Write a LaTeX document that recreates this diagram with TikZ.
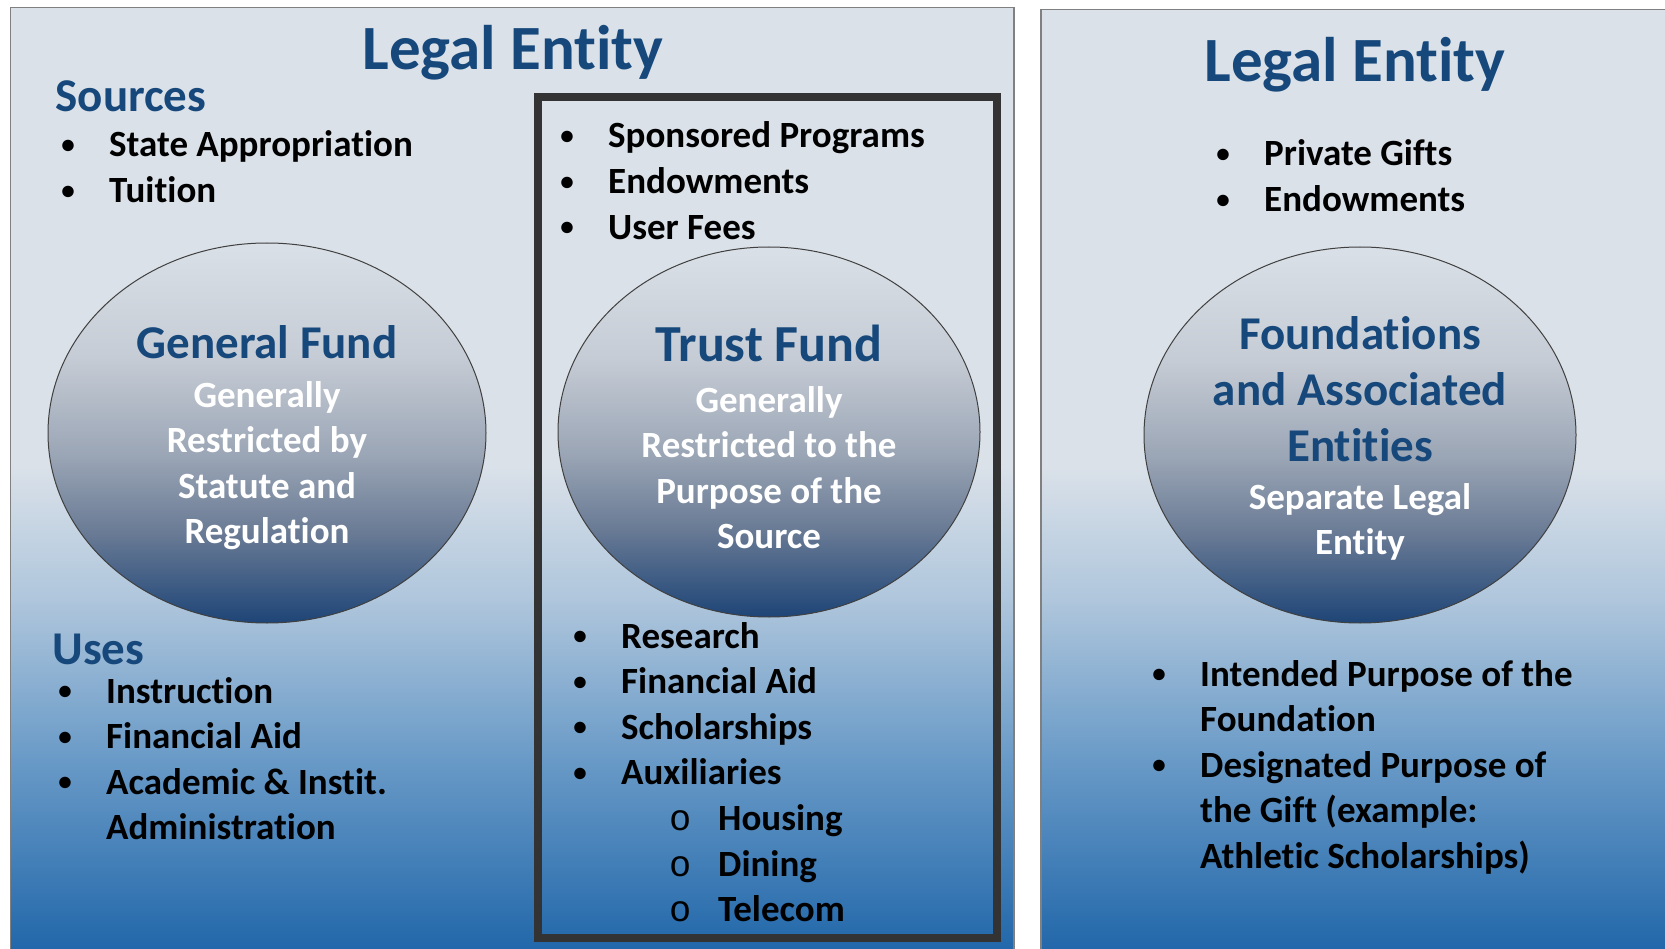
\documentclass[tikz,border=0pt]{standalone}
\usepackage{fontspec}
\setmainfont{Carlito}[Ligatures=NoCommon]
\newfontfamily\subbulfont{Liberation Mono}
\usetikzlibrary{positioning,shapes}

\definecolor{titleblue}{HTML}{17487B}
\definecolor{panellight}{HTML}{DAE1E9}
\definecolor{panelmid}{HTML}{AFC6DC}
\definecolor{panelsky}{HTML}{6C9CC8}
\definecolor{paneldeep}{HTML}{1D64A8}
\definecolor{ovaltop}{HTML}{DAE0E7}
\definecolor{ovalupper}{HTML}{C6CCD5}
\definecolor{ovalmid}{HTML}{9AA5B5}
\definecolor{ovallow}{HTML}{6A7B95}
\definecolor{ovalbot}{HTML}{1E4577}
\definecolor{framegray}{HTML}{333333}

\pgfdeclareverticalshading{panelfade}{100bp}{color(0bp)=(paneldeep); color(25bp)=(paneldeep); color(36bp)=(panelsky); color(44bp)=(panelmid); color(51bp)=(panellight); color(100bp)=(panellight)}
\pgfdeclareverticalshading{ovalfade}{100bp}{color(0bp)=(ovalbot); color(25bp)=(ovalbot); color(37bp)=(ovallow); color(47bp)=(ovalmid); color(60bp)=(ovalupper); color(75bp)=(ovaltop); color(100bp)=(ovaltop)}

\newcommand{\bul}{\makebox[0pt]{\fontsize{27}{27}\selectfont\raisebox{3.5pt}{\textbullet}}\hspace*{41pt}}
\newcommand{\subbul}{\hspace*{100pt}\makebox[0pt]{\mdseries\subbulfont o}\hspace*{38pt}}

\tikzset{
  panel/.style={draw=black!50, line width=1.5pt, shading=panelfade},
  oval/.style={ellipse, draw=black!75, line width=1pt, shading=ovalfade, inner sep=0pt},
  bigtitle/.style={text=titleblue, font=\fontsize{63}{76}\selectfont\bfseries, anchor=base},
  section/.style={text=titleblue, font=\fontsize{47}{56}\selectfont\bfseries, anchor=base west},
  items/.style={align=left, anchor=base west, inner sep=0pt, font=\fontsize{37}{45.6}\selectfont\bfseries},
  fundname/.style={text=titleblue, align=center, anchor=base, inner sep=0pt},
  fundnote/.style={text=white, align=center, anchor=base, inner sep=0pt, font=\fontsize{37}{45.5}\selectfont\bfseries}
}

% multi-line nodes sit on the baseline of their last line
\begin{document}
\begin{tikzpicture}[x=1pt, y=-1pt]
\useasboundingbox (0,0) rectangle (1665,949);

% panels
\draw[panel] (10.6,7.4) rectangle (1014,962);
\draw[panel] (1041,9.6) rectangle (1680,962);
\draw[framegray, line width=8pt] (538,97.5) rectangle (997,937.5);

% left legal entity
\node[bigtitle] (title1) at (513,70) {Legal Entity};
\node[section] (sources) at (52,112) {Sources};
\node[items] (srclist) at (68,202.6) {\bul State Appropriation\\\bul Tuition};
\node[oval, minimum width=438pt, minimum height=380pt] (general) at (267,433) {};
\node[fundname, font=\fontsize{47}{56}\selectfont\bfseries] (gfname) at (267,359) {General Fund};
\node[fundnote] (gfnote) at (267,543.5) {Generally\\Restricted by\\Statute and\\Regulation};
\node[section] (uses) at (49,664) {Uses};
\node[items] (uselist) at (65,839.8) {\bul Instruction\\\bul Financial Aid\\\bul Academic \& Instit.\\\hspace*{41pt}Administration};

% trust fund
\node[items] (trustsrc) at (567,239.2) {\bul Sponsored Programs\\\bul Endowments\\\bul User Fees};
\node[oval, minimum width=422pt, minimum height=370pt] (trust) at (769,432) {};
\node[fundname, font=\fontsize{52}{60}\selectfont\bfseries] (tfname) at (769,362) {Trust Fund};
\node[fundnote] (tfnote) at (769,548.5) {Generally\\Restricted to the\\Purpose of the\\Source};
\node[items] (trustuse) at (580,921.6) {\bul Research\\\bul Financial Aid\\\bul Scholarships\\\bul Auxiliaries\\\subbul Housing\\\subbul Dining\\\subbul Telecom};

% right legal entity
\node[bigtitle] (title2) at (1355,82) {Legal Entity};
\node[items] (fndsrc) at (1223,211.6) {\bul Private Gifts\\\bul Endowments};
\node[oval, minimum width=432pt, minimum height=376pt] (found) at (1360,435) {};
\node[fundname, font=\fontsize{47}{56}\selectfont\bfseries] (fdname) at (1360,461) {Foundations\\and Associated\\Entities};
\node[fundnote] (fdnote) at (1360,554.5) {Separate Legal\\Entity};
\node[items] (fnduse) at (1159,868.4) {\bul Intended Purpose of the\\\hspace*{41pt}Foundation\\\bul Designated Purpose of\\\hspace*{41pt}the Gift (example:\\\hspace*{41pt}Athletic Scholarships)};
\end{tikzpicture}
\end{document}
